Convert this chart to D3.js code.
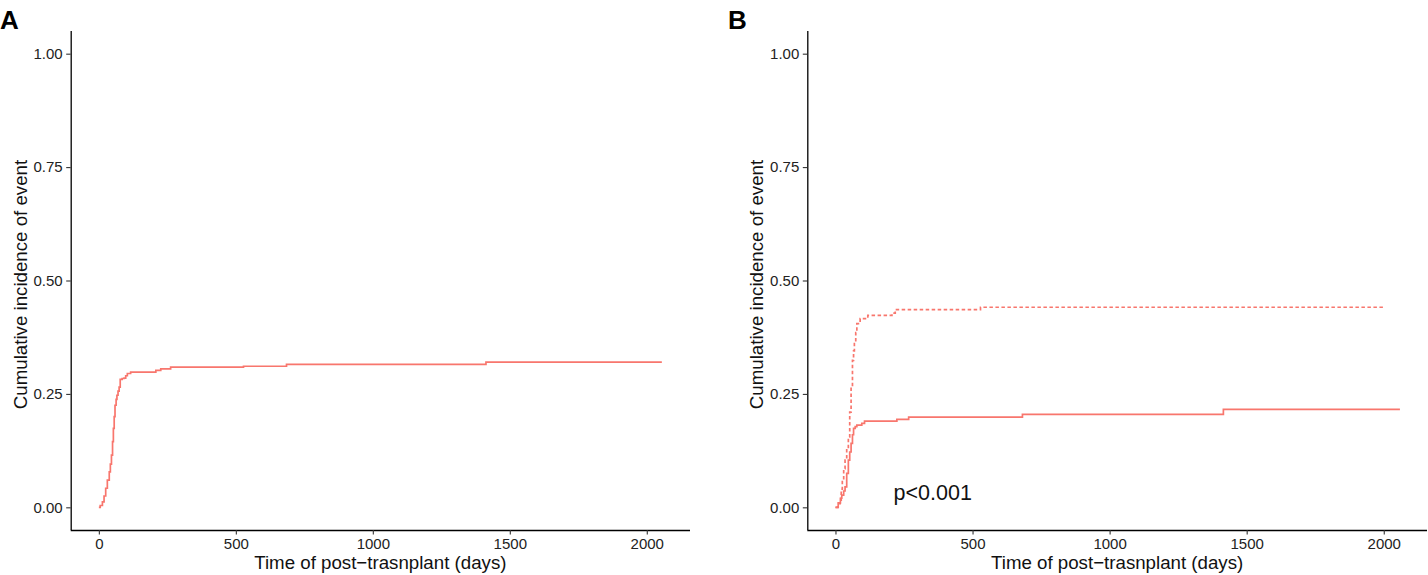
<!DOCTYPE html>
<html>
<head>
<meta charset="utf-8">
<script src="https://cdn.jsdelivr.net/npm/d3@7/dist/d3.min.js"></script>
<style>
  html, body { margin: 0; padding: 0; background: #fff; }
  svg { display: block; }
  text { font-family: "Liberation Sans", Arial, sans-serif; }
</style>
</head>
<body>
<svg id="chart" width="1428" height="575"></svg>
<script>
// ---- data ----
const timeTicks = [0, 500, 1000, 1500, 2000];
const probTicks = [0, 0.25, 0.5, 0.75, 1];
const probLabels = ["0.00", "0.25", "0.50", "0.75", "1.00"];

// Panel A: overall cumulative incidence
const aTime = [0, 5, 13, 19, 25, 31, 38, 42, 46, 50, 53, 56, 59, 63, 66, 70, 74, 78, 85, 92, 98, 104, 116, 208, 226, 262, 528, 685, 1413, 2055];
const aCif  = [0, 0.004, 0.012, 0.025, 0.042, 0.06, 0.078, 0.095, 0.115, 0.145, 0.174, 0.2, 0.225, 0.238, 0.247, 0.256, 0.265, 0.282, 0.284, 0.285, 0.29, 0.295, 0.298, 0.302, 0.305, 0.309, 0.311, 0.315, 0.32, 0.32];

// Panel B: solid group
const bSolidTime = [0, 10, 18, 23, 30, 35, 41, 47, 52, 57, 62, 66, 72, 78, 96, 106, 224, 267, 682, 1415, 2059];
const bSolidCif  = [0, 0.01, 0.02, 0.027, 0.036, 0.045, 0.075, 0.104, 0.122, 0.141, 0.16, 0.174, 0.178, 0.181, 0.185, 0.19, 0.194, 0.199, 0.205, 0.216, 0.216];

// Panel B: dotted group
const bDotTime = [0, 8, 17, 21, 25, 30, 35, 41, 47, 52, 57, 62, 66, 69, 74, 78, 90, 118, 206, 218, 529, 2000];
const bDotCif  = [0, 0.008, 0.016, 0.04, 0.06, 0.085, 0.104, 0.13, 0.155, 0.21, 0.265, 0.324, 0.345, 0.361, 0.385, 0.405, 0.416, 0.423, 0.428, 0.436, 0.441, 0.441];

const xTitle = "Time of post\u2212trasnplant (days)";
const yTitle = "Cumulative incidence of event";
const pText = "p<0.001";

// ---- drawing ----
const svg = d3.select("#chart");
const color = "#F8766D";
const plotTop = 31, plotBottom = 530;
const fontFam = "'Liberation Sans', Arial, sans-serif";

function zip(t, v) { return t.map((d, i) => ({ t: d, v: v[i] })); }

function panel(left, right, letter, letterX, series, annot) {
  const x = d3.scaleLinear().domain([-102.75, 2157.75]).range([left, right]);
  const y = d3.scaleLinear().domain([-0.05, 1.05]).range([plotBottom, plotTop]);
  const g = svg.append("g");

  const xa = g.append("g").attr("transform", `translate(0,${plotBottom})`)
    .call(d3.axisBottom(x).tickValues(timeTicks).tickSize(4.5).tickPadding(3.5).tickFormat(d3.format("d")));
  const ya = g.append("g").attr("transform", `translate(${left},0)`)
    .call(d3.axisLeft(y).tickValues(probTicks).tickSize(4.5).tickPadding(3.5).tickFormat((d, i) => probLabels[i]));
  [xa, ya].forEach(a => {
    a.select(".domain").attr("stroke", "#000").attr("stroke-width", 1.3);
    a.selectAll(".tick line").attr("stroke", "#333").attr("stroke-width", 1.1);
    a.selectAll(".tick text").attr("fill", "#222").style("font-size", "15px").style("font-family", fontFam);
  });
  xa.select(".domain").attr("d", `M${left},0.5H${right}`);
  ya.select(".domain").attr("d", `M0.5,${plotTop}V${plotBottom}`);

  const line = d3.line().x(d => x(d.t)).y(d => y(d.v)).curve(d3.curveStepAfter);
  series.forEach(s => {
    g.append("path").datum(s.data)
      .attr("fill", "none").attr("stroke", color).attr("stroke-width", 1.7)
      .attr("stroke-dasharray", s.dash || null)
      .attr("d", line);
  });

  g.append("text").attr("x", (left + right) / 2).attr("y", 569)
    .attr("text-anchor", "middle").style("font-size", "18.7px").attr("fill", "#111").text(xTitle);
  g.append("text").attr("transform", `translate(${left - 44},${(plotTop + plotBottom) / 2 + 4}) rotate(-90)`)
    .attr("text-anchor", "middle").style("font-size", "18.7px").attr("fill", "#111").text(yTitle);
  g.append("text").attr("x", letterX).attr("y", 29)
    .style("font-size", "26px").style("font-weight", "bold").attr("fill", "#000").text(letter);

  if (annot) {
    g.append("text").attr("x", x(annot.t)).attr("y", y(annot.v))
      .style("font-size", "21.5px").attr("fill", "#111").text(annot.text);
  }
}

panel(70.7, 690, "A", 0, [{ data: zip(aTime, aCif) }], null);
panel(807.3, 1427, "B", 728, [
  { data: zip(bDotTime, bDotCif), dash: "3.5,2.5" },
  { data: zip(bSolidTime, bSolidCif) }
], { t: 212, v: 0.016, text: pText });
</script>
</body>
</html>
